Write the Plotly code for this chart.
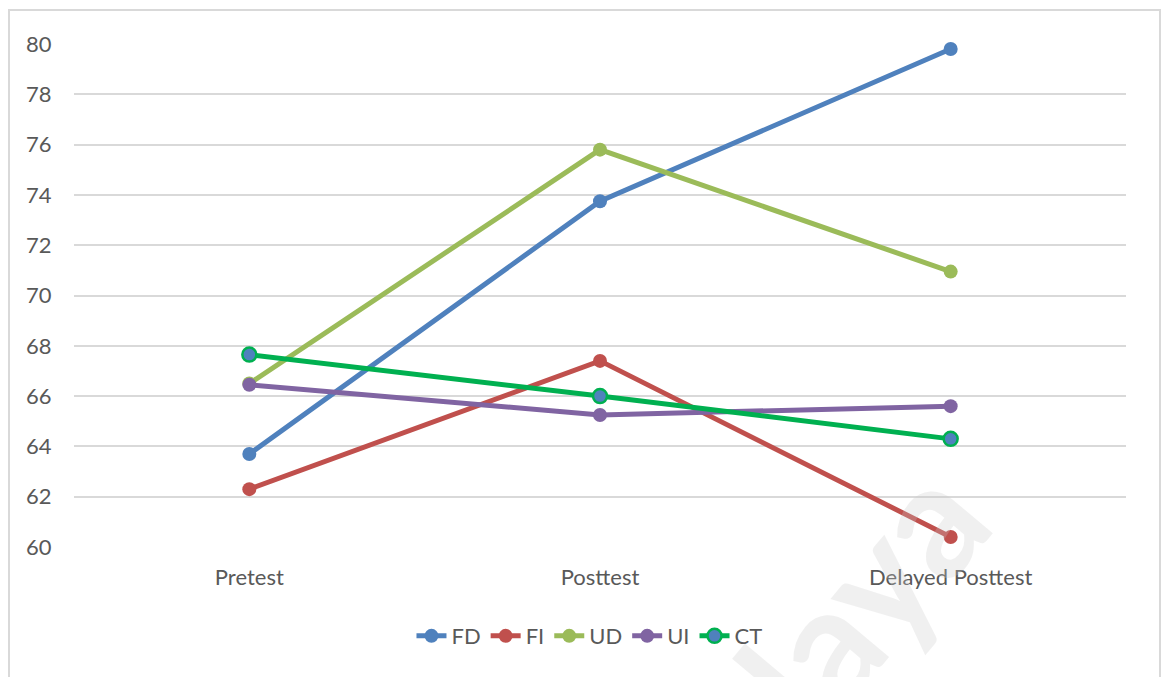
import plotly.graph_objects as go

categories = ["Pretest", "Posttest", "Delayed Posttest"]
series_names = ["FD", "FI", "UD", "UI", "CT"]
fd = [63.7, 73.75, 79.8]
fi = [62.3, 67.4, 60.4]
ud = [66.5, 75.8, 70.95]
ui = [66.45, 65.25, 65.6]
ct = [67.65, 66.0, 64.3]
y_ticks = [60, 62, 64, 66, 68, 70, 72, 74, 76, 78, 80]

line_colors = ["#4F81BD", "#C0504D", "#9BBB59", "#8064A2", "#00B050"]
marker_colors = ["#4F81BD", "#C0504D", "#9BBB59", "#8064A2", "#4F81BD"]
marker_lines = ["#4F81BD", "#C0504D", "#9BBB59", "#8064A2", "#00B050"]

FONT = "Lato, 'Open Sans', sans-serif"

fig = go.Figure()
for name, vals, lc, mc, ml in zip(series_names, [fd, fi, ud, ui, ct], line_colors, marker_colors, marker_lines):
    fig.add_trace(go.Scatter(
        x=list(range(len(categories))), y=vals, name=name, mode="lines+markers",
        line=dict(color=lc, width=5),
        marker=dict(size=14, color=mc, line=dict(color=ml, width=2.5 if name == "CT" else 0)),
        cliponaxis=False,
    ))

fig.update_layout(
    width=1163, height=677,
    margin=dict(l=74, r=37, t=44, b=130),
    paper_bgcolor="white", plot_bgcolor="white",
    font=dict(family=FONT, size=22, color="#595959"),
    showlegend=True,
    legend=dict(orientation="h", x=0.49, xanchor="center", y=-0.177, yanchor="middle",
                font=dict(size=22, color="#595959"), itemwidth=30, traceorder="normal"),
    xaxis=dict(range=[-0.5, 2.5], tickmode="array", tickvals=list(range(len(categories))),
               ticktext=categories, showgrid=False, zeroline=False, showline=False,
               ticks="outside", ticklen=11, tickcolor="rgba(0,0,0,0)", fixedrange=True),
    yaxis=dict(range=[60, 80], tickmode="array", tickvals=y_ticks,
               showgrid=True, gridcolor="#D9D9D9", gridwidth=1.5, zeroline=False, showline=False,
               ticks="outside", ticklen=17, tickcolor="rgba(0,0,0,0)", fixedrange=True),
    shapes=[dict(type="rect", xref="paper", yref="paper",
                 x0=(9 - 74) / 1052, x1=(1160 - 74) / 1052,
                 y0=(547 - 700) / 503, y1=(547 - 10) / 503,
                 line=dict(color="#D9D9D9", width=2), fillcolor="rgba(0,0,0,0)", layer="below")],
    annotations=[dict(text="<b>laya</b>", xref="paper", yref="paper",
                      x=(860 - 74) / 1052, y=(547 - 595) / 503, xanchor="center", yanchor="middle",
                      showarrow=False, textangle=-50,
                      font=dict(size=160, color="rgba(200,200,200,0.28)", family=FONT))],
)

fig.write_html("out.html")
